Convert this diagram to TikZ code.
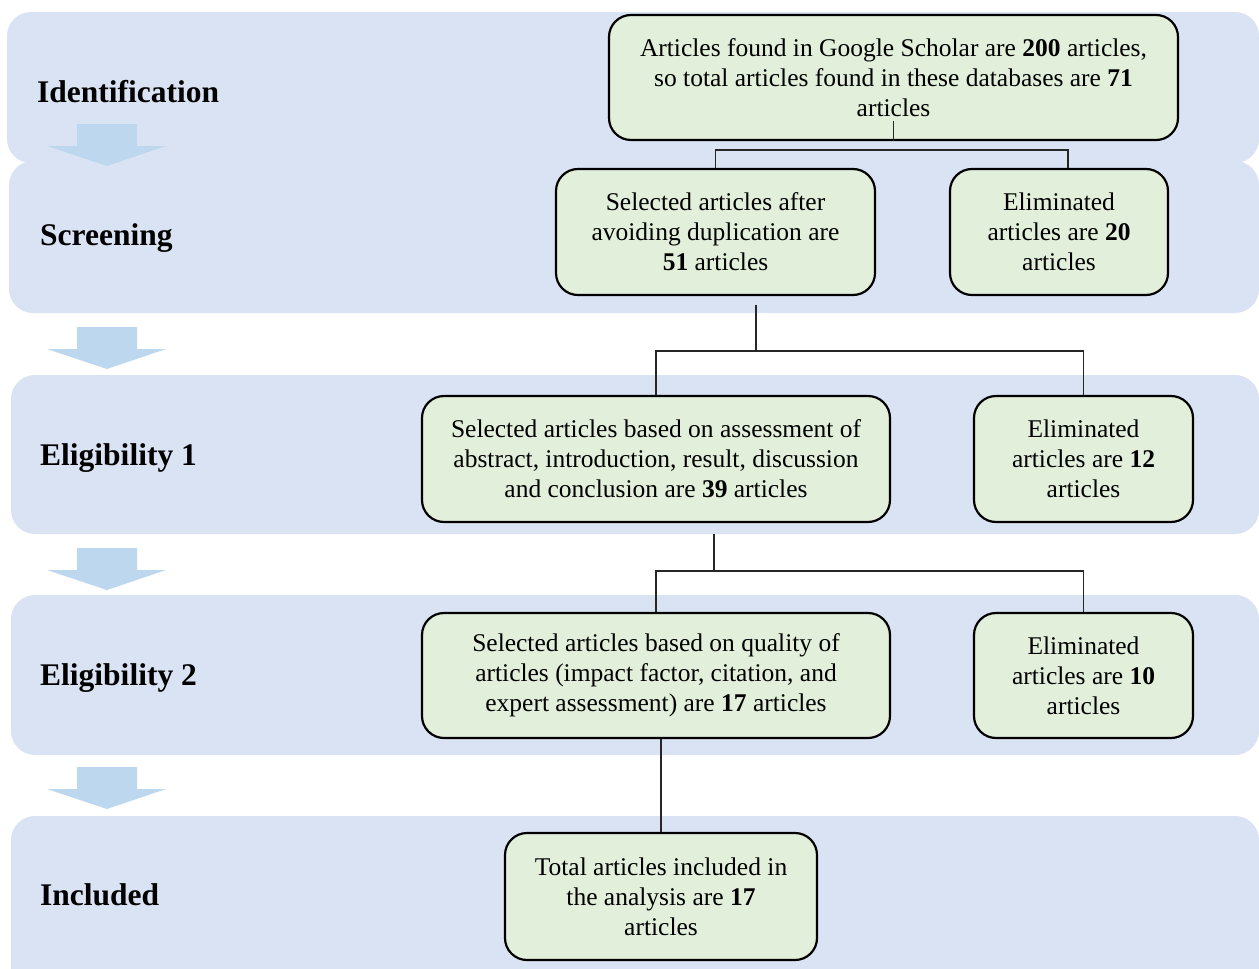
\documentclass[tikz,border=0pt]{standalone}
\usepackage{fontspec}
\setmainfont{Liberation Serif}
\definecolor{bandblue}{RGB}{218,227,243}
\definecolor{arrowblue}{RGB}{189,215,238}
\definecolor{boxgreen}{RGB}{226,239,218}
\begin{document}
\begin{tikzpicture}[x=1pt,y=-1pt,
  band/.style={fill=bandblue, draw=none, rounded corners=24pt},
  bigarrow/.style={fill=arrowblue, draw=none},
  stage/.style={anchor=base west, inner sep=0pt, font=\fontsize{31.5}{36}\selectfont\bfseries},
  flowbox/.style={draw=black, line width=2.2pt, fill=boxgreen, rounded corners=22pt,
    align=center, inner sep=0pt, font=\fontsize{25.5}{30}\selectfont},
  link/.style={draw=black!85, line width=1.3pt}]
\useasboundingbox (0,0) rectangle (1259,969);
\clip (0,0) rectangle (1259,969);
\fill[white] (0,0) rectangle (1259,969);
% bands
\path[band] (7,12) rectangle (1259,163);
\path[band] (9,161) rectangle (1259,313);
\path[band] (11,375) rectangle (1259,534);
\path[band] (11,595) rectangle (1259,755);
\path[band] (11,816) rectangle (1259,995);
% stage arrows
\foreach \t in {124,327,548,767}{
  \path[bigarrow] (77,\t) -- (137,\t) -- (137,\t+22) -- (166,\t+22) -- (107,\t+42)
    -- (47,\t+22) -- (77,\t+22) -- cycle;
}
% stage labels
\node[stage] (lid) at (37,102) {Identification};
\node[stage] (lsc) at (40,245) {Screening};
\node[stage] (le1) at (40,465) {Eligibility 1};
\node[stage] (le2) at (40,685) {Eligibility 2};
\node[stage] (lin) at (40,905) {Included};
% boxes
\node[flowbox, minimum width=569pt, minimum height=125pt] (top) at (893.5,77.5)
  {Articles found in Google Scholar are \textbf{200} articles,\\
   so total articles found in these databases are \textbf{71}\\ articles};
\node[flowbox, minimum width=319pt, minimum height=126pt] (sel1) at (715.5,232)
  {Selected articles after\\ avoiding duplication are\\ \textbf{51} articles};
\node[flowbox, minimum width=218pt, minimum height=126pt] (elim1) at (1059,232)
  {Eliminated\\ articles are \textbf{20}\\ articles};
\node[flowbox, minimum width=468pt, minimum height=126pt] (sel2) at (656,459)
  {Selected articles based on assessment of\\ abstract, introduction, result, discussion\\ and conclusion are \textbf{39} articles};
\node[flowbox, minimum width=219pt, minimum height=126pt] (elim2) at (1083.5,459)
  {Eliminated\\ articles are \textbf{12}\\ articles};
\node[flowbox, minimum width=468pt, minimum height=125pt] (sel3) at (656,675.5)
  {Selected articles based on quality of\\ articles (impact factor, citation, and\\ expert assessment) are \textbf{17} articles};
\node[flowbox, minimum width=219pt, minimum height=125pt] (elim3) at (1083.5,675.5)
  {Eliminated\\ articles are \textbf{10}\\ articles};
\node[flowbox, minimum width=312pt, minimum height=127pt] (incl) at (661,896.5)
  {Total articles included in\\ the analysis are \textbf{17}\\ articles};
% connectors
\coordinate (b0) at (892,150);
\draw[link] (top.south) -- ++(0,-20);
\draw[link] (sel1.north) |- (b0);
\draw[link] ([xshift=9pt]elim1.north) |- (b0);
\coordinate (j1) at (756,305);
\coordinate (b1) at (756,351);
\draw[link] (j1) -- (b1);
\draw[link] (sel2.north) |- (b1);
\draw[link] (elim2.north) |- (b1);
\coordinate (j2) at (714,534);
\coordinate (b2) at (714,571);
\draw[link] (j2) -- (b2);
\draw[link] (sel3.north) |- (b2);
\draw[link] (elim3.north) |- (b2);
\draw[link] (incl.north) -- (incl.north |- sel3.south);
\end{tikzpicture}
\end{document}
